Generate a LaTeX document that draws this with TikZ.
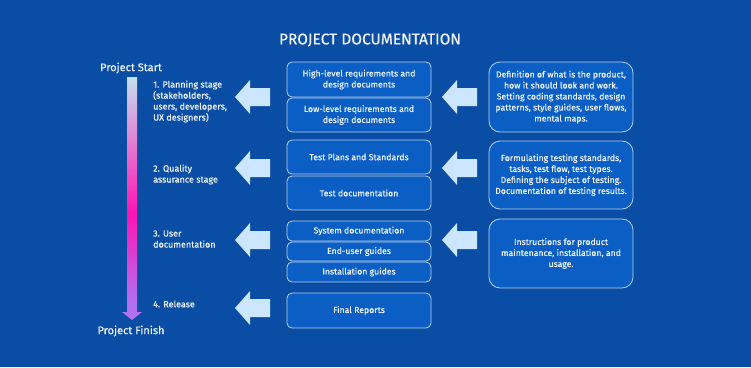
\documentclass[tikz,border=0pt]{standalone}
\usepackage{fontspec}
\setmainfont{Fira Sans}[FakeBold=0.6]
\usetikzlibrary{positioning}
\definecolor{bgblue}{HTML}{0A4DA5}
\definecolor{boxblue}{HTML}{0A5EC4}
\definecolor{boxline}{HTML}{B8D0F0}
\definecolor{arrowblue}{HTML}{CCE6FF}
\definecolor{barlight}{HTML}{C4E0F0}
\definecolor{barpink}{HTML}{FF14B4}
\definecolor{barpurple}{HTML}{B070F0}
\definecolor{textwhite}{HTML}{EEF3FB}
\pgfdeclareverticalshading{barshade}{100bp}{color(0bp)=(barpurple); color(29bp)=(barpurple); color(47bp)=(barpink); color(75bp)=(barlight); color(100bp)=(barlight)}
\tikzset{
  docbox/.style={draw=boxline, line width=0.8pt, fill=boxblue, rounded corners=5pt,
    minimum width=144pt, inner sep=0pt, text=textwhite, align=center,
    font=\fontsize{8.7}{11}\selectfont},
  infobox/.style={docbox, rounded corners=11pt, minimum height=69pt},
  stagelabel/.style={text=textwhite, anchor=west, align=left, inner sep=0pt,
    font=\fontsize{9}{11}\selectfont},
  endlabel/.style={text=textwhite, font=\fontsize{11}{13}\selectfont},
  pics/blockarrow/.style={code={
    \fill[arrowblue] (0,0) -- (15,-17) -- (15,-9) -- (35,-9) -- (35,9) -- (15,9) -- (15,17) -- cycle;}}
}
\begin{document}
\begin{tikzpicture}[x=1pt,y=-1pt]
		\useasboundingbox (0,0) rectangle (751,367);
		\fill[bgblue] (0,0) rectangle (751,367);
		\node[text=textwhite, font=\fontsize{15.5}{17}\selectfont] (title) at (370,40) {PROJECT DOCUMENTATION};
		% timeline bar
		\node[endlabel] (start) at (131,68) {Project Start};
		\shade[shading=barshade] (127,77) -- (137,77) -- (137,312) -- (142,312) -- (132,320) -- (122,312) -- (127,312) -- cycle;
		\node[endlabel] (finish) at (131,331) {Project Finish};
		% stages
		\node[stagelabel] (stage1) at (153,101.5) {1. Planning stage\\(stakeholders,\\users, developers,\\UX designers)};
		\node[stagelabel] (stage2) at (153,174.5) {2. Quality\\assurance stage};
		\node[stagelabel] (stage3) at (153,239) {3. User\\documentation};
		\node[stagelabel] (stage4) at (153,304) {4. Release};
		\pic at (235,97) {blockarrow};
		\pic at (235,168) {blockarrow};
		\pic at (235,240) {blockarrow};
		\pic at (235,308) {blockarrow};
		% documents
		\node[docbox, minimum height=35pt] (hlreq) at (359,79.5) {High-level requirements and\\design documents};
		\node[docbox, minimum height=34pt] (llreq) at (359,115) {Low-level requirements and\\design documents};
		\node[docbox, minimum height=34pt] (testplan) at (359,157) {Test Plans and Standards};
		\node[docbox, minimum height=34pt] (testdoc) at (359,193) {Test documentation};
		\node[docbox, minimum height=20pt] (sysdoc) at (359,231) {System documentation};
		\node[docbox, minimum height=19pt] (userguide) at (359,251.5) {End-user guides};
		\node[docbox, minimum height=20pt] (installguide) at (359,272) {Installation guides};
		\node[docbox, minimum height=35pt] (finalrep) at (359,310.5) {Final Reports};
		% descriptions
		\pic at (442,97) {blockarrow};
		\pic at (442,168) {blockarrow};
		\pic at (442,240) {blockarrow};
		\node[infobox, minimum height=70pt] (defprod) at (561,97) {Definition of what is the product,\\how it should look and work.\\Setting coding standards, design\\patterns, style guides, user flows,\\mental maps.};
		\node[infobox, minimum height=68pt] (deftest) at (561,175) {Formulating testing standards,\\tasks, test flow, test types.\\Defining the subject of testing.\\Documentation of testing results.};
		\node[infobox] (instr) at (561,253.5) {Instructions for product\\maintenance, installation, and\\usage.};
	\end{tikzpicture}
\end{document}
